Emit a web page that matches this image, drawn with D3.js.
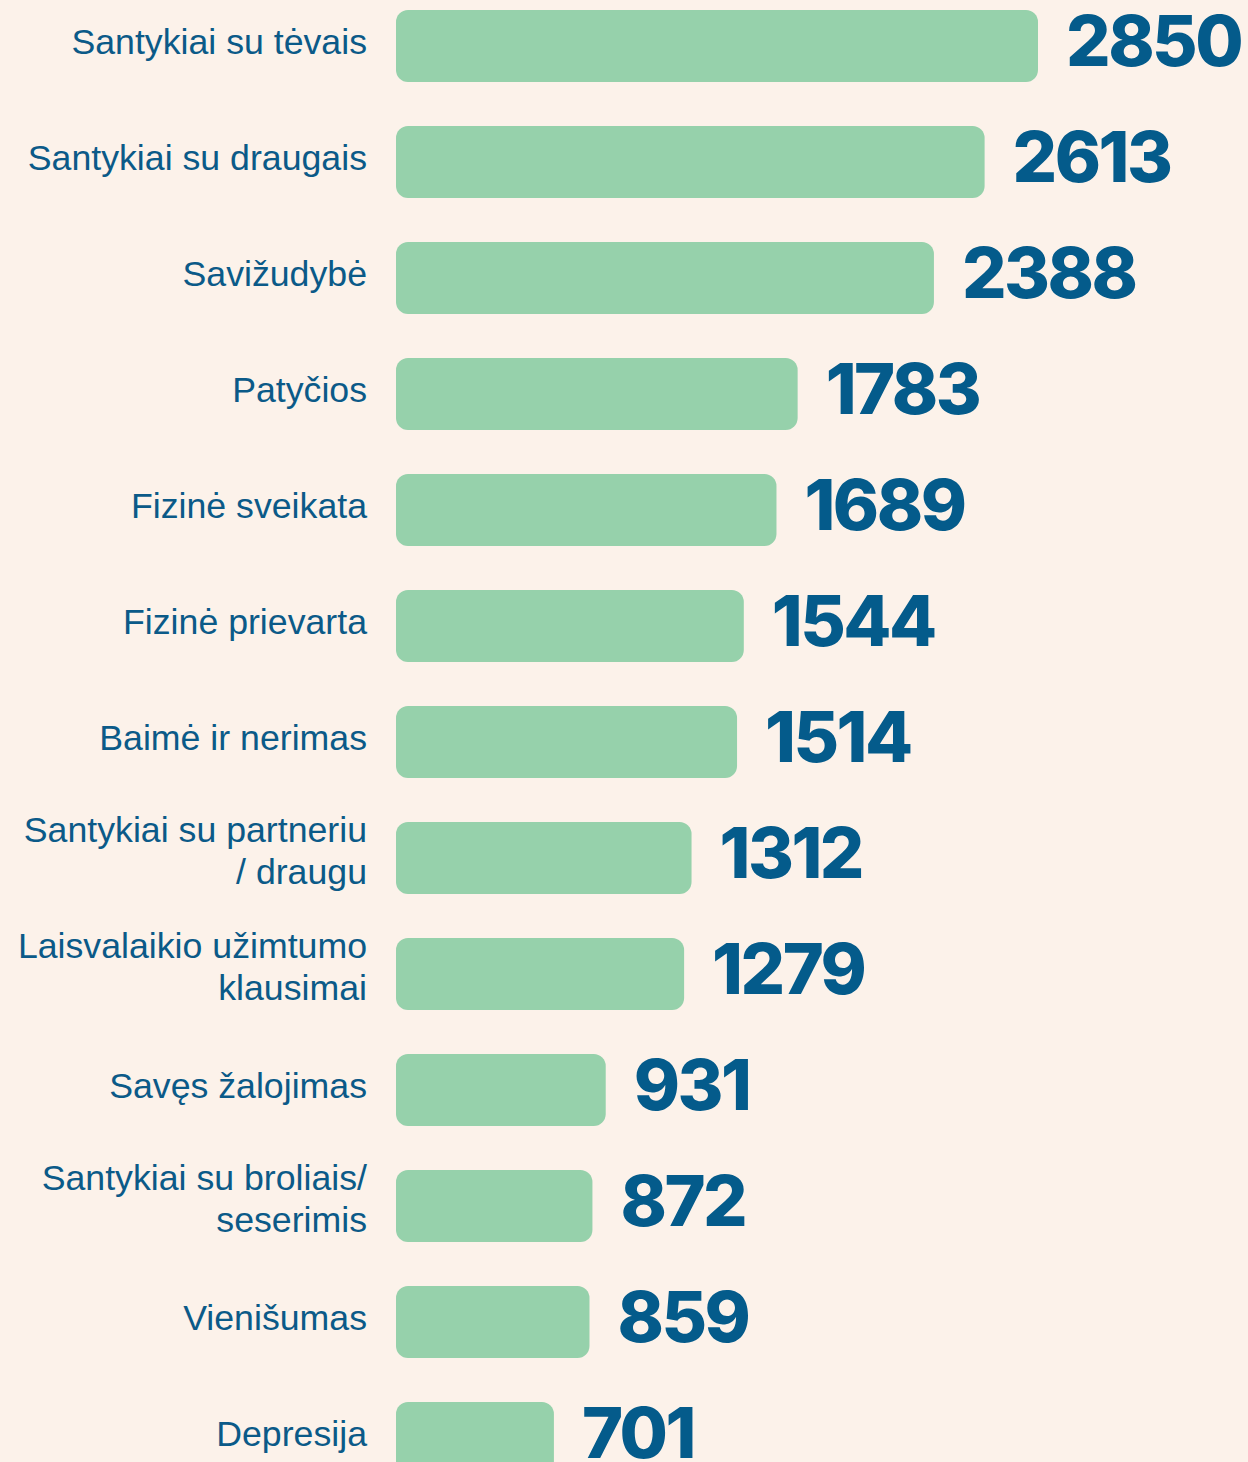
<!DOCTYPE html>
<html>
<head>
<meta charset="utf-8">
<script src="https://cdn.jsdelivr.net/npm/d3@7"></script>
<style>
  body { margin: 0; background: #fcf2ea; }
  svg { display: block; }
</style>
</head>
<body>
<div id="chart"></div>
<script>
// categories (line breaks kept as in the original labels)
const categories = [
    "Santykiai su tėvais",
    "Santykiai su draugais",
    "Savižudybė",
    "Patyčios",
    "Fizinė sveikata",
    "Fizinė prievarta",
    "Baimė ir nerimas",
    "Santykiai su partneriu\n/ draugu",
    "Laisvalaikio užimtumo\nklausimai",
    "Savęs žalojimas",
    "Santykiai su broliais/\nseserimis",
    "Vienišumas",
    "Depresija"
];
const counts = [2850, 2613, 2388, 1783, 1689, 1544, 1514, 1312, 1279, 931, 872, 859, 701];

const data = categories.map((c, i) => ({ category: c, count: counts[i] }));

const width = 1248;
const height = 1462;

const svg = d3.select("#chart")
    .append("svg")
    .attr("width", width)
    .attr("height", height);

svg.append("rect")
    .attr("width", width)
    .attr("height", height)
    .attr("fill", "#fcf2ea");

// scales
const x = d3.scaleLinear()
    .domain([0, d3.max(counts)])
    .range([396, 1038]);

const y = d3.scaleBand()
    .domain(categories)
    .range([-12, 1496])
    .paddingInner(44 / 116)
    .paddingOuter(22 / 116);

// bars
svg.selectAll(".bar")
    .data(data)
    .enter().append("rect")
    .attr("class", "bar")
    .attr("x", x(0))
    .attr("y", d => y(d.category))
    .attr("width", d => x(d.count) - x(0))
    .attr("height", y.bandwidth())
    .attr("rx", 12)
    .attr("fill", "#96d1ab");

// category labels
const labels = svg.selectAll(".label")
    .data(data)
    .enter().append("text")
    .attr("class", "label")
    .attr("text-anchor", "end")
    .attr("font-family", "'Liberation Sans', Arial, sans-serif")
    .attr("font-size", 35.7)
    .attr("fill", "#0b5a88");

labels.each(function(d) {
    const lines = d.category.split("\n");
    const cy = y(d.category) + y.bandwidth() / 2;
    const t = d3.select(this);
    if (lines.length === 1) {
        t.append("tspan").attr("x", 367).attr("y", cy + 8).text(lines[0]);
    } else {
        lines.forEach((line, i) => {
            t.append("tspan")
                .attr("x", 367)
                .attr("y", cy - 16 + i * 42)
                .text(line);
        });
    }
});

// value labels
svg.selectAll(".value")
    .data(data)
    .enter().append("text")
    .attr("class", "value")
    .attr("x", d => x(d.count) + 28)
    .attr("y", d => y(d.category) + y.bandwidth() / 2 + 20)
    .attr("font-family", "Inter, 'Liberation Sans', sans-serif")
    .attr("font-weight", 800)
    .attr("font-size", 70)
    .attr("letter-spacing", -2.5)
    .attr("fill", "#045b8b")
    .text(d => d.count);
</script>
</body>
</html>
